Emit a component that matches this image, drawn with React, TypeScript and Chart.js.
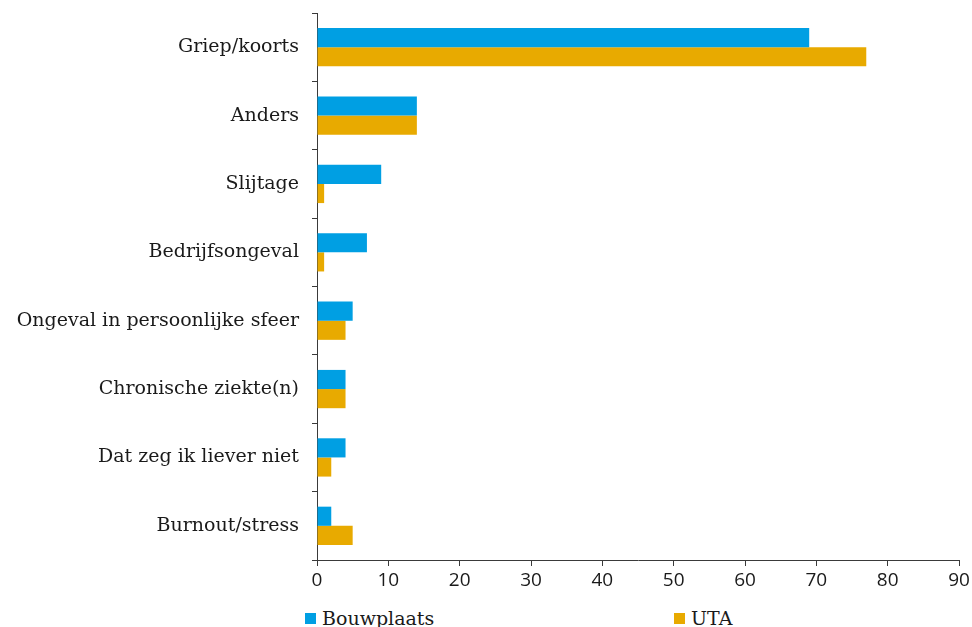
import React, { useEffect, useRef } from "react";
import { Chart, registerables } from "chart.js";

Chart.register(...registerables);

const categories = [
  "Griep/koorts",
  "Anders",
  "Slijtage",
  "Bedrijfsongeval",
  "Ongeval in persoonlijke sfeer",
  "Chronische ziekte(n)",
  "Dat zeg ik liever niet",
  "Burnout/stress",
];
const bouwplaats = [69, 14, 9, 7, 5, 4, 4, 2];
const uta = [77, 14, 1, 1, 4, 4, 2, 5];
const seriesNames = ["Bouwplaats", "UTA"];
const seriesColors = ["#009FE3", "#E8AA00"];
const xTicks = [0, 10, 20, 30, 40, 50, 60, 70, 80, 90];

export default function App() {
  const ref = useRef<HTMLCanvasElement | null>(null);
  useEffect(() => {
    if (!ref.current) return;
    const axisColor = "#3a3a3a";
    const chart = new Chart(ref.current, {
      type: "bar",
      data: {
        labels: categories,
        datasets: [
          { label: seriesNames[0], data: bouwplaats, backgroundColor: seriesColors[0], categoryPercentage: 0.56, barPercentage: 1 },
          { label: seriesNames[1], data: uta, backgroundColor: seriesColors[1], categoryPercentage: 0.56, barPercentage: 1 },
        ],
      },
      options: {
        indexAxis: "y",
        animation: false,
        responsive: false,
        maintainAspectRatio: false,
        layout: { autoPadding: false, padding: { top: 13, right: 13, left: 0, bottom: 0 } },
        plugins: { legend: { display: false }, tooltip: { enabled: false } },
        scales: {
          x: {
            min: xTicks[0],
            max: xTicks[xTicks.length - 1],
            afterBuildTicks: (s: any) => { s.ticks = xTicks.map((v) => ({ value: v })); },
            afterFit: (s: any) => { s.height = 40; s.paddingLeft = 0; s.paddingRight = 0; },
            border: { display: true, color: axisColor, width: 1 },
            grid: { display: true, drawOnChartArea: false, drawTicks: true, tickLength: 6, color: axisColor },
            ticks: { color: "#1a1a1a", padding: 3, font: { family: "'Open Sans'", size: 19 } },
          },
          y: {
            afterFit: (s: any) => { s.width = 317; s.paddingTop = 0; s.paddingBottom = 0; },
            border: { display: true, color: axisColor, width: 1 },
            grid: { display: true, offset: true, drawOnChartArea: false, drawTicks: true, tickLength: 5, color: axisColor },
            ticks: { color: "#1a1a1a", padding: 13, font: { family: "'DejaVu Serif'", size: 19 } },
          },
        },
      },
    });
    return () => chart.destroy();
  }, []);

  const legendItem = (i: number, left: number) => (
    <div style={{ position: "absolute", left, top: 607, display: "flex", alignItems: "center", fontFamily: "'DejaVu Serif'", fontSize: 19, color: "#1a1a1a", whiteSpace: "nowrap" }}>
      <span style={{ display: "inline-block", width: 11, height: 11, background: seriesColors[i], marginRight: 6 }} />
      <span>{seriesNames[i]}</span>
    </div>
  );

  return (
    <div style={{ position: "absolute", left: 0, top: 0, width: 972, height: 627, overflow: "hidden", background: "#fff" }}>
      <canvas ref={ref} width={972} height={600} style={{ display: "block" }} />
      {legendItem(0, 305)}
      {legendItem(1, 674)}
    </div>
  );
}
